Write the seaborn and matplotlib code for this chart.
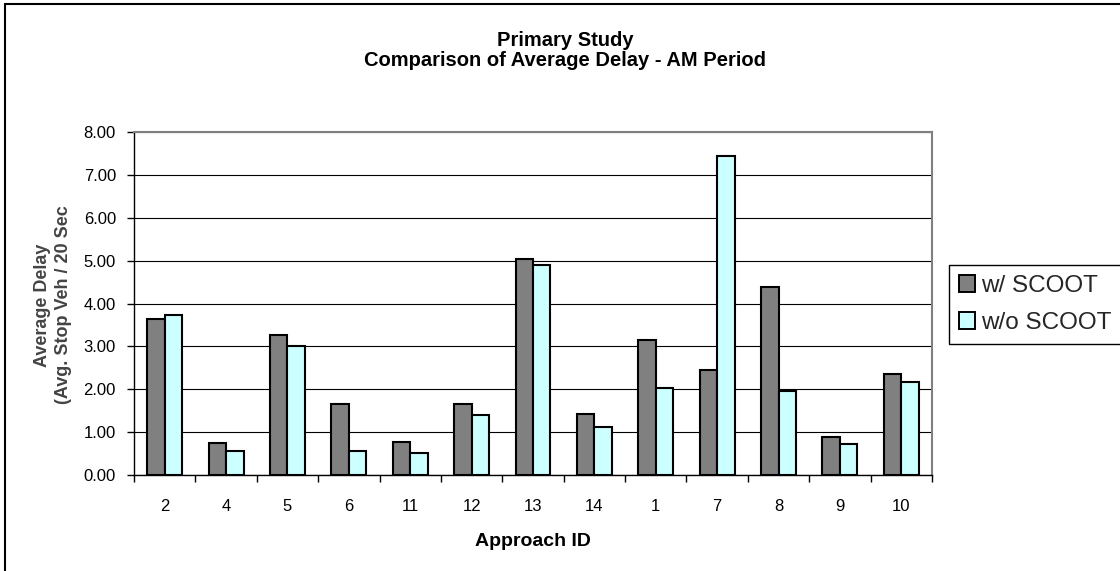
import matplotlib
matplotlib.use("Agg")
import matplotlib.pyplot as plt
from matplotlib.lines import Line2D
from matplotlib.ticker import FormatStrFormatter, FixedLocator
import seaborn as sns
import pandas as pd
import numpy as np

# Approach IDs in plotted order and average delay per condition
approaches = ["2", "4", "5", "6", "11", "12", "13", "14", "1", "7", "8", "9", "10"]
with_scoot = [3.63, 0.74, 3.26, 1.66, 0.78, 1.66, 5.04, 1.42, 3.15, 2.44, 4.38, 0.88, 2.36]
without_scoot = [3.73, 0.55, 3.01, 0.55, 0.51, 1.41, 4.90, 1.11, 2.03, 7.45, 1.97, 0.73, 2.17]
conditions = ["w/ SCOOT", "w/o SCOOT"]
bar_colors = ["#808080", "#CCFFFF"]
y_ticks = [0, 1, 2, 3, 4, 5, 6, 7, 8]

df = pd.DataFrame({
    "approach": approaches * 2,
    "delay": with_scoot + without_scoot,
    "condition": [conditions[0]] * len(approaches) + [conditions[1]] * len(approaches),
})

sns.set_theme(style="white")
plt.rcParams["font.family"] = ["Liberation Sans", "DejaVu Sans"]

W, H = 1120, 571
fig = plt.figure(figsize=(W / 100, H / 100), dpi=100)
fig.patch.set_facecolor("white")

# plot area in pixel coordinates
x0, x1, y0, y1 = 134, 932, 132, 475
ax = fig.add_axes([x0 / W, 1 - y1 / H, (x1 - x0) / W, (y1 - y0) / H])

sns.barplot(
    data=df, x="approach", y="delay", hue="condition",
    order=approaches, hue_order=conditions, palette=bar_colors,
    saturation=1, width=0.57, edgecolor="black", linewidth=1.5,
    ax=ax,
)

ax.set_xlim(-0.5, len(approaches) - 0.5)
ax.set_ylim(0, 8)
ax.set_yticks(y_ticks)
ax.yaxis.set_major_formatter(FormatStrFormatter("%.2f"))
ax.set_axisbelow(True)
ax.yaxis.grid(True, color="black", linewidth=0.8)
ax.xaxis.grid(False)

# category separator ticks below the axis
ax.xaxis.set_minor_locator(FixedLocator(np.arange(-0.5, len(approaches), 1.0)))
ax.tick_params(axis="x", which="major", length=0, pad=17, labelsize=12, colors="black")
ax.tick_params(axis="x", which="minor", bottom=True, length=5, width=1, color="black")
ax.tick_params(axis="y", which="major", left=True, length=5, width=1, pad=8,
               labelsize=12, colors="black")

for side in ["left", "bottom"]:
    ax.spines[side].set_color("black")
    ax.spines[side].set_linewidth(1.0)
for side in ["top", "right"]:
    ax.spines[side].set_color("#808080")
    ax.spines[side].set_linewidth(1.5)

ax.set_xlabel("")
ax.set_ylabel("")

handles, labels = ax.get_legend_handles_labels()
if ax.get_legend() is not None:
    ax.get_legend().remove()
leg = fig.legend(
    handles, labels, loc="upper left",
    bbox_to_anchor=(949 / W, 1 - 265 / H),
    fontsize=17.5, frameon=True, fancybox=False, shadow=False,
    framealpha=1, edgecolor="black", borderpad=0.4,
    handlelength=0.68, handleheight=0.68, handletextpad=0.25,
    labelspacing=0.62, borderaxespad=0,
)
leg.get_frame().set_linewidth(1.0)
for h in leg.legend_handles:
    h.set_edgecolor("black")
    h.set_linewidth(1.4)

# titles and axis labels
fig.text(565 / W, 1 - 40.5 / H, "Primary Study", ha="center", va="center",
         fontsize=14.5, fontweight="bold", color="black")
fig.text(565 / W, 1 - 61 / H, "Comparison of Average Delay - AM Period",
         ha="center", va="center", fontsize=14.5, fontweight="bold", color="black")
fig.text(533 / W, 1 - 541 / H, "Approach ID", ha="center", va="center",
         fontsize=14, fontweight="bold", color="black")
fig.text(53 / W, 1 - 305 / H, "Average Delay\n(Avg. Stop Veh / 20 Sec",
         ha="center", va="center", rotation=90, multialignment="center",
         fontsize=13, fontweight="bold", color="#444444", linespacing=1.3)

# chart-area border along the left and top edges
fig.add_artist(Line2D([5 / W, 5 / W], [0, 1 - 4 / H], transform=fig.transFigure,
                      color="black", linewidth=1.5))
fig.add_artist(Line2D([5 / W, 1], [1 - 4 / H, 1 - 4 / H], transform=fig.transFigure,
                      color="black", linewidth=1.5))

fig.savefig("out.png", dpi=100)
